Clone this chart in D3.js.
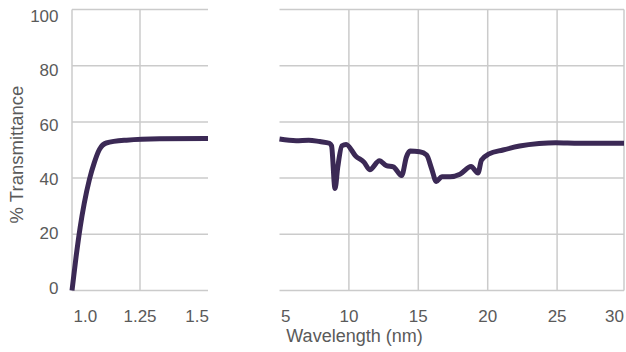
<!DOCTYPE html>
<html>
<head>
<meta charset="utf-8">
<script src="https://cdn.jsdelivr.net/npm/d3@7"></script>
<style>
  html, body { margin: 0; padding: 0; background: #ffffff; }
  svg { display: block; }
  text { font-family: "Liberation Sans", Arial, Helvetica, sans-serif; }
</style>
</head>
<body>
<svg id="chart" width="626" height="352"></svg>
<script>
// ---- data ----
const nirWavelength = [1.0, 1.015, 1.03, 1.045, 1.064, 1.082, 1.101, 1.126, 1.2, 1.323, 1.5];
const nirTransmittance = [0, 12, 22.5, 31, 39.5, 45.5, 50.2, 52.5, 53.5, 54, 54.1];

const irWavelength = [5, 6.2, 7.1, 7.9, 8.6, 8.75, 9.0, 9.2, 9.5, 9.8, 10.5, 11.1, 11.5, 12.2, 12.7, 13.2, 13.8, 14.15, 14.4, 15.1, 15.6, 15.95, 16.3, 16.7, 17.3, 18.0, 18.8, 19.3, 19.55, 20.1, 21.1, 22.3, 23.7, 24.9, 26.6, 30];
const irTransmittance = [53.9, 53.3, 53.5, 53.0, 52.4, 51.5, 36.3, 44, 51.5, 52.0, 47.8, 45.6, 43.0, 46.2, 44.4, 44.0, 40.9, 47.6, 49.6, 49.4, 48.2, 43.5, 38.8, 40.5, 40.5, 41.4, 44.1, 41.8, 46.4, 48.6, 50.0, 51.4, 52.3, 52.6, 52.4, 52.4];

const yTicks = [0, 20, 40, 60, 80, 100];
const nirTicks = [1.0, 1.25, 1.5];
const nirTickLabels = ["1.0", "1.25", "1.5"];
const nirGridTicks = [1.0, 1.25];
const irTicks = [5, 10, 15, 20, 25, 30];
const irTickLabels = ["5", "10", "15", "20", "25", "30"];
const irGridTicks = [10, 15, 20, 25];

const yTitle = "% Transmittance";
const xTitle = "Wavelength (nm)";

// ---- layout ----
const svg = d3.select("#chart");
const gridColor = "#cbcbcb";
const textColor = "#5a5a5a";
const lineColor = "#3b2955";

const y = d3.scaleLinear().domain([0, 100]).range([290.5, 9.5]);
const yLabel = d3.scaleLinear().domain([0, 100]).range([287.5, 16]);

const xL = d3.scaleLinear().domain([1.0, 1.5]).range([72, 208]);
const xR = d3.scaleLinear().domain([5, 30]).range([279.5, 626.5]);
const rightEdge = 624;

// horizontal grid lines
function hGrid(x0, x1) {
  svg.append("g").selectAll("line").data(yTicks).join("line")
    .attr("x1", x0).attr("x2", x1)
    .attr("y1", d => y(d)).attr("y2", d => y(d))
    .attr("stroke", gridColor).attr("stroke-width", 1.5);
}
hGrid(xL.range()[0], xL.range()[1]);
hGrid(xR.range()[0], rightEdge);

// vertical grid lines
svg.append("g").selectAll("line").data(nirGridTicks).join("line")
  .attr("x1", d => xL(d)).attr("x2", d => xL(d))
  .attr("y1", y(100)).attr("y2", y(0))
  .attr("stroke", gridColor).attr("stroke-width", 1.5);
svg.append("g").selectAll("line").data(irGridTicks).join("line")
  .attr("x1", d => xR(d)).attr("x2", d => xR(d))
  .attr("y1", y(100)).attr("y2", y(0))
  .attr("stroke", gridColor).attr("stroke-width", 1.5);
svg.append("line")
  .attr("x1", rightEdge).attr("x2", rightEdge)
  .attr("y1", y(100)).attr("y2", y(0))
  .attr("stroke", gridColor).attr("stroke-width", 1.5);

// y tick labels
svg.append("g").selectAll("text").data(yTicks).join("text")
  .attr("x", 58.5).attr("y", d => yLabel(d))
  .attr("dy", "0.36em")
  .attr("text-anchor", "end")
  .attr("font-size", 17).attr("fill", textColor)
  .text(d => d);

// x tick labels
function xLabels(ticks, labels, sc, x0, x1) {
  svg.append("g").selectAll("text").data(ticks).join("text")
    .attr("x", (d, i) => i === 0 ? x0 + 1.5 : (i === ticks.length - 1 ? x1 : sc(d)))
    .attr("y", 322)
    .attr("text-anchor", (d, i) => i === 0 ? "start" : (i === ticks.length - 1 ? "end" : "middle"))
    .attr("font-size", 17).attr("fill", textColor)
    .text((d, i) => labels[i]);
}
xLabels(nirTicks, nirTickLabels, xL, xL.range()[0], xL.range()[1] + 1);
xLabels(irTicks, irTickLabels, xR, xR.range()[0], rightEdge);

// titles
svg.append("text")
  .attr("transform", "translate(23,154.5) rotate(-90)")
  .attr("text-anchor", "middle")
  .attr("font-size", 18.5).attr("fill", textColor)
  .text(yTitle);
svg.append("text")
  .attr("x", 354.5).attr("y", 341.5)
  .attr("text-anchor", "middle")
  .attr("font-size", 18).attr("fill", textColor)
  .text(xTitle);

// clip for right panel
svg.append("defs").append("clipPath").attr("id", "clipR")
  .append("rect").attr("x", xR.range()[0] - 5).attr("y", 0)
  .attr("width", rightEdge - xR.range()[0] + 5).attr("height", 352);

// lines
const nirData = nirWavelength.map((w, i) => [w, nirTransmittance[i]]);
const irData = irWavelength.map((w, i) => [w, irTransmittance[i]]);

const lineL = d3.line().x(d => xL(d[0])).y(d => y(d[1])).curve(d3.curveMonotoneX);
const lineR = d3.line().x(d => xR(d[0])).y(d => y(d[1])).curve(d3.curveMonotoneX);

svg.append("path").datum(nirData)
  .attr("d", lineL).attr("fill", "none")
  .attr("stroke", lineColor).attr("stroke-width", 5)
  .attr("stroke-linejoin", "round");
svg.append("path").datum(irData)
  .attr("clip-path", "url(#clipR)")
  .attr("d", lineR).attr("fill", "none")
  .attr("stroke", lineColor).attr("stroke-width", 5)
  .attr("stroke-linejoin", "round");
</script>
</body>
</html>
